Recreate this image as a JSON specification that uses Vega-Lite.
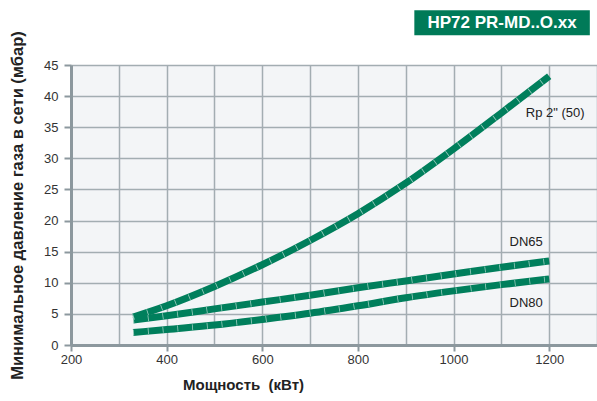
{
  "$schema": "https://vega.github.io/schema/vega-lite/v6.json",
  "width": 526,
  "height": 280,
  "autosize": {"type": "none"},
  "padding": {"left": 71, "top": 65, "right": 0, "bottom": 56},
  "background": "#ffffff",
  "config": {
    "view": {"fill": "#f3f5f7", "stroke": null},
    "font": "Liberation Sans",
    "axisY": {"values": [0, 5, 10, 15, 20, 25, 30, 35, 40, 45], "tickCount": 10}
  },
  "datasets": {
    "curves": [
      {"series": "Rp 2\" (50)", "x": 330, "y": 4.5},
      {"series": "Rp 2\" (50)", "x": 400, "y": 6.3},
      {"series": "Rp 2\" (50)", "x": 500, "y": 9.4},
      {"series": "Rp 2\" (50)", "x": 600, "y": 12.9},
      {"series": "Rp 2\" (50)", "x": 700, "y": 16.8},
      {"series": "Rp 2\" (50)", "x": 800, "y": 21.1},
      {"series": "Rp 2\" (50)", "x": 900, "y": 26.0},
      {"series": "Rp 2\" (50)", "x": 1000, "y": 31.5},
      {"series": "Rp 2\" (50)", "x": 1100, "y": 37.3},
      {"series": "Rp 2\" (50)", "x": 1200, "y": 43.2},
      {"series": "DN65", "x": 330, "y": 4.0},
      {"series": "DN65", "x": 400, "y": 4.7},
      {"series": "DN65", "x": 500, "y": 5.8},
      {"series": "DN65", "x": 600, "y": 6.9},
      {"series": "DN65", "x": 700, "y": 8.0},
      {"series": "DN65", "x": 800, "y": 9.2},
      {"series": "DN65", "x": 900, "y": 10.3},
      {"series": "DN65", "x": 1000, "y": 11.4},
      {"series": "DN65", "x": 1100, "y": 12.5},
      {"series": "DN65", "x": 1200, "y": 13.5},
      {"series": "DN80", "x": 330, "y": 2.0},
      {"series": "DN80", "x": 400, "y": 2.5},
      {"series": "DN80", "x": 500, "y": 3.2},
      {"series": "DN80", "x": 600, "y": 4.1},
      {"series": "DN80", "x": 700, "y": 5.1},
      {"series": "DN80", "x": 800, "y": 6.3},
      {"series": "DN80", "x": 900, "y": 7.6},
      {"series": "DN80", "x": 1000, "y": 8.7},
      {"series": "DN80", "x": 1100, "y": 9.7},
      {"series": "DN80", "x": 1200, "y": 10.6}
    ],
    "labels": [
      {"label": "Rp 2\" (50)", "x": 1151, "y": 37.3, "w": "normal"},
      {"label": "DN65", "x": 1117, "y": 16.6, "w": "bold"},
      {"label": "DN80", "x": 1117, "y": 6.75, "w": "bold"}
    ],
    "badge": [
      {"x": 918, "x2": 1285, "y": 49.8, "y2": 53.8, "xm": 1101.5, "ym": 51.8, "text": "HP72 PR-MD..O.xx"}
    ]
  },
  "encoding": {
    "x": {
      "field": "x", "type": "quantitative",
      "scale": {"domain": [200, 1300], "nice": false, "zero": false},
      "axis": {
        "values": [200, 300, 400, 500, 600, 700, 800, 900, 1000, 1100, 1200, 1300],
        "labelExpr": "datum.value % 200 === 0 && datum.value < 1300 ? datum.label : ''",
        "format": "d",
        "title": "Мощность \u00a0(кВт)",
        "titleFont": "Liberation Sans", "titleFontSize": 15, "titleFontWeight": "bold", "titleColor": "#222222",
        "titleX": 172, "titleY": 44, "titleBaseline": "alphabetic", "titleAnchor": null, "titleAlign": "center",
        "labelFontSize": 13, "labelColor": "#333333", "labelPadding": 2, "labelFlush": false, "labelOverlap": false,
        "tickSize": 6, "tickWidth": 2,
        "tickColor": {"condition": {"test": "datum.value % 200 === 0 && datum.value < 1300", "value": "#8c989e"}, "value": "transparent"},
        "domainColor": "#8c989e", "domainWidth": 3,
        "grid": true, "gridColor": "#a3adb2", "gridWidth": 1.5
      }
    },
    "y": {
      "field": "y", "type": "quantitative",
      "scale": {"domain": [0, 45], "nice": false, "zero": true},
      "axis": {
        "values": [0, 5, 10, 15, 20, 25, 30, 35, 40, 45],
        "tickCount": 10,
        "format": "d",
        "labelExpr": "datum.label",
        "title": "Минимальное давление газа в сети (мбар)",
        "titleFont": "Liberation Sans", "titleFontSize": 16.5, "titleFontWeight": "bold", "titleColor": "#222222",
        "titleX": -46, "titleY": 140, "titleAnchor": null, "titleAlign": "center",
        "labelFontSize": 13, "labelColor": "#333333", "labelPadding": 6, "labelOverlap": false,
        "tickSize": 7, "tickWidth": 2, "tickColor": "#8c989e",
        "domainColor": "#8c989e", "domainWidth": 3,
        "grid": true, "gridColor": "#a3adb2", "gridWidth": 1.5
      }
    }
  },
  "layer": [
    {
      "data": {"name": "curves"},
      "mark": {"type": "line", "strokeWidth": 7, "strokeCap": "butt", "color": "#007f5c", "interpolate": "monotone"},
      "encoding": {
        "detail": {"field": "series", "type": "nominal"}
      }
    },
    {
      "data": {"name": "curves"},
      "mark": {"type": "line", "strokeWidth": 6, "strokeCap": "butt", "color": "#ffffff", "opacity": 0.6, "strokeDash": [0.8, 14], "interpolate": "monotone"},
      "encoding": {
        "detail": {"field": "series", "type": "nominal"}
      }
    },
    {
      "data": {"name": "labels"},
      "mark": {"type": "text", "align": "left", "baseline": "middle", "fontSize": 13, "color": "#222222"},
      "encoding": {
        "text": {"field": "label"},
        "fontWeight": {"field": "w", "type": "nominal", "scale": null}
      }
    },
    {
      "data": {"name": "badge"},
      "mark": {"type": "rect", "color": "#007a58", "clip": false},
      "encoding": {
        "x2": {"field": "x2"},
        "y2": {"field": "y2"}
      }
    },
    {
      "data": {"name": "badge"},
      "mark": {"type": "text", "align": "center", "baseline": "middle", "fontSize": 17, "fontWeight": "bold", "color": "#ffffff", "clip": false},
      "encoding": {
        "x": {"field": "xm", "type": "quantitative"},
        "y": {"field": "ym", "type": "quantitative"},
        "text": {"field": "text"}
      }
    }
  ]
}
